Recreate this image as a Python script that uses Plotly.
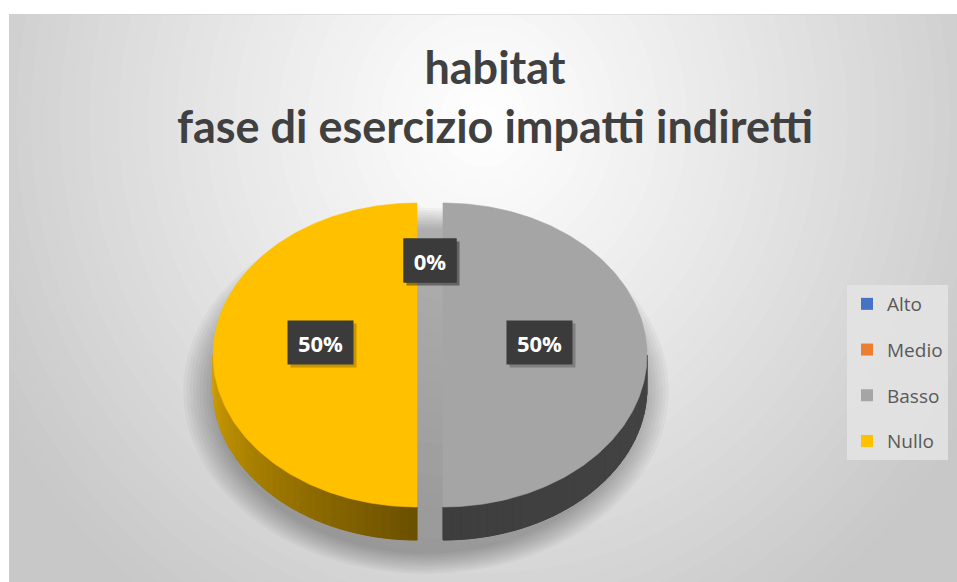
import numpy as np
import plotly.graph_objects as go

# ---------------- data ----------------
categories = ["Alto", "Medio", "Basso", "Nullo"]
values = [0, 0, 1, 1]
top_colors = ["#4472C4", "#ED7D31", "#A5A5A5", "#FFC000"]
side_light = ["#2F5597", "#C55A11", "#444444", "#D2A000"]
side_dark = ["#203864", "#843C0C", "#3e3e3e", "#6A4F00"]
title_lines = ["habitat", "fase di esercizio impatti indiretti"]

# ---------------- geometry (pixel-like coordinates) ----------------
W, H = 957, 582
LEFT, TOP = 9, 14
CX, CY = 430, 355
RX, RY = 204, 152
DEPTH = 33
EXPLODE = 13

fig = go.Figure()

# background radial gradient (stack of ellipses)
shapes = []
shapes.append(dict(type="rect", xref="x", yref="y", x0=LEFT, y0=TOP, x1=W, y1=H,
                   fillcolor="#c6c6c6", line=dict(width=0), layer="below"))
gcx, gcy, grx, gry = 483, 120, 560, 600
steps = 48
for k in range(steps, 0, -1):
    d = 1.25 * k / steps
    v = int(round(255 - 55 * min(d, 1.0) ** 1.1))
    col = f"rgb({v},{v},{v})"
    shapes.append(dict(type="circle", xref="x", yref="y",
                       x0=gcx - d * grx, x1=gcx + d * grx,
                       y0=gcy - d * gry, y1=gcy + d * gry,
                       fillcolor=col, line=dict(width=0), layer="below"))

# soft shadow beneath pie
for k in range(10):
    f = 1.10 - k * 0.015
    shapes.append(dict(type="circle", xref="x", yref="y",
                       x0=CX - 8 - (RX + EXPLODE) * f, x1=CX + (RX + EXPLODE) * f,
                       y0=CY + 20 - RY * f, y1=CY + 22 + DEPTH + RY * f * 0.98,
                       fillcolor="rgba(0,0,0,0.03)", line=dict(width=0), layer="below"))

# chart border
shapes.append(dict(type="rect", xref="x", yref="y", x0=LEFT, y0=TOP, x1=W + 5, y1=H + 5,
                   fillcolor="rgba(0,0,0,0)", line=dict(color="#cfcfcf", width=1), layer="above"))

total = float(sum(values))
fracs = [v / total for v in values]
starts = np.concatenate([[0.0], np.cumsum(fracs)[:-1]]) * 2 * np.pi
ends = np.cumsum(fracs) * 2 * np.pi


def hex_rgb(h):
    h = h.lstrip("#")
    return [int(h[i:i + 2], 16) for i in (0, 2, 4)]


def mix(c1, c2, t):
    a, b = hex_rgb(c1), hex_rgb(c2)
    r = [int(round(a[i] + (b[i] - a[i]) * t)) for i in range(3)]
    return f"rgb({r[0]},{r[1]},{r[2]})"


# side faces
for i, cat in enumerate(categories):
    if values[i] <= 0:
        continue
    a0, a1 = starts[i], ends[i]
    m = (a0 + a1) / 2
    ox = EXPLODE * np.sin(m)
    oy = -EXPLODE * np.cos(m) * RY / RX
    s0, s1 = max(a0, np.pi / 2), min(a1, 3 * np.pi / 2)
    if s1 <= s0:
        continue
    # solid base of the side wall
    t = np.linspace(s0, s1, 120)
    xs = CX + ox + RX * np.sin(t)
    ys = CY + oy - RY * np.cos(t)
    base = mix(side_light[i], side_dark[i], 0.5)
    fig.add_trace(go.Scatter(x=np.concatenate([xs, xs[::-1], xs[:1]]),
                             y=np.concatenate([ys, ys[::-1] + DEPTH, ys[:1]]),
                             mode="lines", fill="toself", fillcolor=base,
                             line=dict(color=base, width=0.5),
                             hoverinfo="skip", showlegend=False))
    n = 36
    edges = np.linspace(s0, s1, n + 1)
    for j in range(n):
        t = np.linspace(edges[j], edges[j + 1], 6)
        xs = CX + ox + RX * np.sin(t)
        ys = CY + oy - RY * np.cos(t)
        px = np.concatenate([xs, xs[::-1], xs[:1]])
        py = np.concatenate([ys, ys[::-1] + DEPTH, ys[:1]])
        mid = (edges[j] + edges[j + 1]) / 2
        tt = 1 - abs(mid - np.pi) / (np.pi / 2)
        col = mix(side_light[i], side_dark[i], min(max(tt, 0), 1))
        fig.add_trace(go.Scatter(x=px, y=py, mode="lines", fill="toself",
                                 fillcolor=col, line=dict(color=col, width=1),
                                 hoverinfo="skip", showlegend=False))

# top faces
for i, cat in enumerate(categories):
    if values[i] <= 0:
        continue
    a0, a1 = starts[i], ends[i]
    m = (a0 + a1) / 2
    ox = EXPLODE * np.sin(m)
    oy = -EXPLODE * np.cos(m) * RY / RX
    t = np.linspace(a0, a1, 200)
    xs = CX + ox + RX * np.sin(t)
    ys = CY + oy - RY * np.cos(t)
    px = np.concatenate([[CX + ox], xs, [CX + ox]])
    py = np.concatenate([[CY + oy], ys, [CY + oy]])
    fig.add_trace(go.Scatter(x=px, y=py, mode="lines", fill="toself",
                             fillcolor=top_colors[i], line=dict(color=top_colors[i], width=0.6),
                             name=cat, hoverinfo="name", showlegend=False))

# legend entries
for i, cat in enumerate(categories):
    fig.add_trace(go.Scatter(x=[None], y=[None], mode="markers", name=cat,
                             legendgroup=cat,
                             marker=dict(symbol="square", size=12, color=top_colors[i]),
                             showlegend=True))

# data labels
annotations = []
for i, cat in enumerate(categories):
    pct = int(round(100 * fracs[i]))
    if values[i] > 0:
        m = (starts[i] + ends[i]) / 2
        ox = EXPLODE * np.sin(m)
        oy = -EXPLODE * np.cos(m) * RY / RX
        lx = CX + ox + 0.475 * RX * np.sin(m)
        ly = CY + oy - 0.475 * RY * np.cos(m) - 13
    else:
        m = starts[i]
        lx = CX + 0.62 * RX * np.sin(m)
        ly = CY - 0.62 * RY * np.cos(m)
    w = 63 if pct >= 10 else 50
    annotations.append(dict(x=lx + 3, y=ly + 3, xref="x", yref="y", text=" ",
                            showarrow=False, width=w, height=41,
                            bgcolor="rgba(0,0,0,0.22)", font=dict(size=20)))
    annotations.append(dict(x=lx, y=ly, xref="x", yref="y", text=f"<b>{pct}%</b>",
                            showarrow=False, width=w, height=41, bgcolor="#3b3b3b",
                            font=dict(family="Open Sans", size=22, color="white")))

fig.update_layout(
    width=W, height=H,
    margin=dict(l=0, r=0, t=0, b=0),
    paper_bgcolor="white",
    plot_bgcolor="rgba(0,0,0,0)",
    title=dict(text="<br>".join(title_lines), x=495 / W, xanchor="center",
               y=1 - 84 / H, yanchor="top", yref="container",
               font=dict(family="Lato", size=45, color="#404040", weight="bold")),
    xaxis=dict(range=[LEFT, W], domain=[LEFT / W, 1], visible=False, fixedrange=True),
    yaxis=dict(range=[H, TOP], domain=[0, 1 - TOP / H], visible=False, fixedrange=True),
    shapes=shapes,
    annotations=annotations,
    legend=dict(x=847 / W, xanchor="left", y=1 - 285 / H, yanchor="top",
                bgcolor="rgba(228,228,228,0.85)", tracegroupgap=18,
                font=dict(family="Open Sans", size=19, color="#595959"),
                itemclick=False, itemdoubleclick=False),
    showlegend=True,
)

fig.write_html("out.html", config={"displayModeBar": False},
               post_script="document.body.style.margin='0';document.body.style.overflow='hidden';")
